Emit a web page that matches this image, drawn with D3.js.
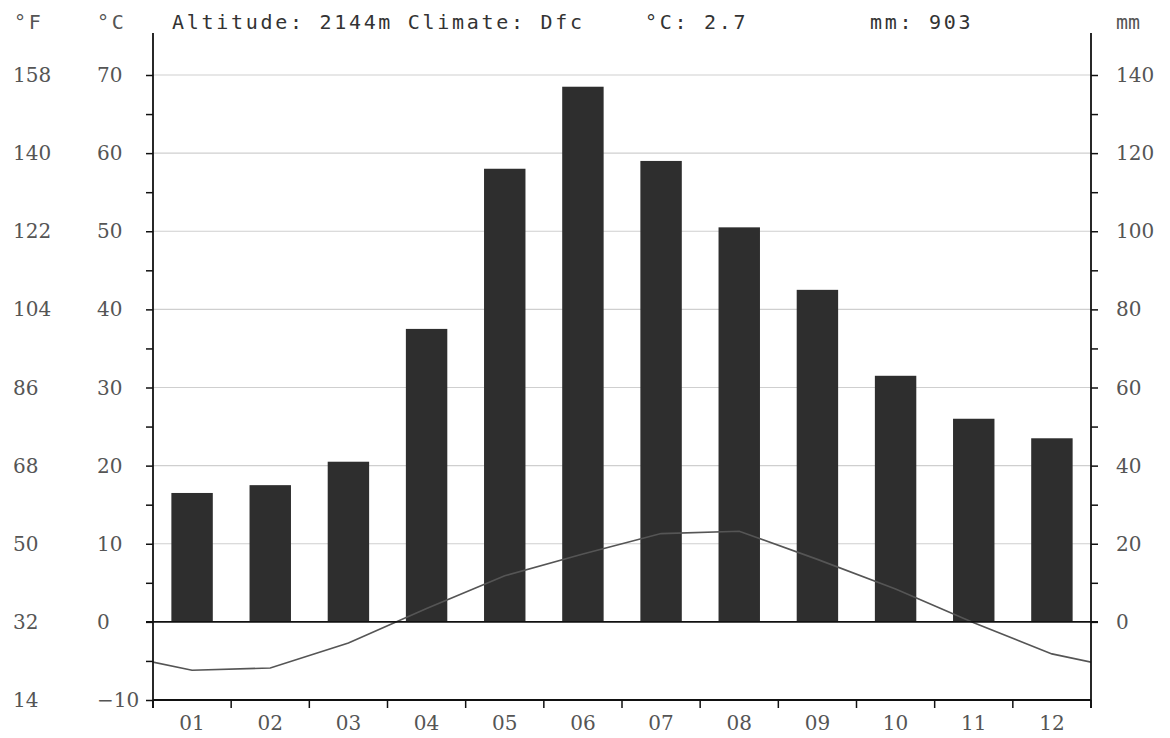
<!DOCTYPE html>
<html><head><meta charset="utf-8">
<script src="https://cdn.jsdelivr.net/npm/d3@7"></script>
<style>
html,body{margin:0;padding:0;background:#fff;}
svg text{font-family:"DejaVu Sans Mono",monospace;fill:#333;}
svg text.num{font-family:"DejaVu Serif",serif;}
</style></head>
<body><svg id="c" width="1170" height="738"></svg>
<script>
const months = ["01","02","03","04","05","06","07","08","09","10","11","12"];
const precip = [33,35,41,75,116,137,118,101,85,63,52,47];
const temp = [-6.2,-5.9,-2.7,1.7,5.9,8.7,11.3,11.6,8.0,4.2,-0.1,-4.1];
const cTicks = [-10,0,10,20,30,40,50,60,70];
const fTicks = [14,32,50,68,86,104,122,140,158];
const mmTicks = [0,20,40,60,80,100,120,140];
const header = ["Altitude: 2144m Climate: Dfc","°C: 2.7","mm: 903"];

const svg = d3.select("#c");
const L = 153, R = 1091, T = 33;
const x = d3.scaleBand().domain(months).range([L, R]).paddingInner(0.47).paddingOuter(0.235);
const xb = d3.scaleLinear().domain([0,12]).range([L, R]);
const yC = d3.scaleLinear().domain([-10,70]).range([700,75]);
const yMM = d3.scaleLinear().domain([-20,140]).range([700,75]);

// gridlines
svg.append("g").selectAll("line").data(cTicks.filter(v=>v>0)).join("line")
  .attr("x1",L).attr("x2",R).attr("y1",d=>yC(d)).attr("y2",d=>yC(d))
  .attr("stroke","#cfcfcf").attr("stroke-width",1.2);

// bars
svg.append("g").selectAll("rect").data(precip).join("rect")
  .attr("x",(d,i)=>x(months[i])).attr("width",x.bandwidth())
  .attr("y",d=>yMM(d)).attr("height",d=>yMM(0)-yMM(d))
  .attr("fill","#2e2e2e");

// temperature line, extended with neighbouring months, clipped
svg.append("clipPath").attr("id","clip").append("rect")
  .attr("x",L).attr("y",T).attr("width",R-L).attr("height",700-T);
const pts = [[-0.5,temp[11]]].concat(temp.map((t,i)=>[i+0.5,t])).concat([[12.5,temp[0]]]);
svg.append("path").attr("clip-path","url(#clip)")
  .attr("d",d3.line().x(d=>xb(d[0])).y(d=>yC(d[1]))(pts))
  .attr("fill","none").attr("stroke","#555").attr("stroke-width",1.6);

// zero line
svg.append("line").attr("x1",L-7).attr("x2",R+7).attr("y1",yC(0)).attr("y2",yC(0))
  .attr("stroke","#111").attr("stroke-width",1.6);

// left axis
const gl = svg.append("g").attr("transform",`translate(${L},0)`);
gl.call(d3.axisLeft(yC).tickValues(d3.range(-10,71,5)).tickSize(7).tickFormat(""));
gl.select(".domain").remove();
gl.selectAll("line").attr("stroke","#111").attr("stroke-width",1.5);
gl.append("line").attr("y1",T).attr("y2",708).attr("stroke","#111").attr("stroke-width",1.8);

// right axis
const gr = svg.append("g").attr("transform",`translate(${R},0)`);
gr.call(d3.axisRight(yMM).tickValues(d3.range(0,141,10)).tickSize(7).tickFormat(""));
gr.select(".domain").remove();
gr.selectAll("line").attr("stroke","#111").attr("stroke-width",1.5);
gr.append("line").attr("y1",T).attr("y2",708).attr("stroke","#111").attr("stroke-width",1.8);

// bottom axis
const gb = svg.append("g").attr("transform","translate(0,700)");
gb.append("line").attr("x1",L).attr("x2",R).attr("stroke","#111").attr("stroke-width",1.8);
gb.selectAll("line.t").data(d3.range(0,13)).join("line").attr("class","t")
  .attr("x1",d=>xb(d)).attr("x2",d=>xb(d)).attr("y1",0).attr("y2",8)
  .attr("stroke","#111").attr("stroke-width",1.5);
gb.selectAll("text").data(months).join("text").attr("class","num")
  .attr("x",d=>x(d)+x.bandwidth()/2).attr("y",30).attr("text-anchor","middle")
  .attr("font-size",20).style("fill","#555").text(d=>d);

// tick labels
const lab = svg.append("g").attr("font-size",20);
lab.selectAll("text.c").data(cTicks).join("text").attr("class","c num")
  .attr("x",97).attr("y",d=>yC(d)+7).style("fill","#555").text(d=>d<0?"−"+Math.abs(d):d);
lab.selectAll("text.f").data(fTicks).join("text").attr("class","f num")
  .attr("x",13).attr("y",(d,i)=>yC(cTicks[i])+7).style("fill","#555").text(d=>d);
lab.selectAll("text.m").data(mmTicks).join("text").attr("class","m num")
  .attr("x",1116).attr("y",d=>yMM(d)+7).style("fill","#555").text(d=>d);

// header
const h = svg.append("g").attr("font-size",20).attr("letter-spacing",2.7);
h.append("text").attr("x",14).attr("y",29).style("fill","#555").text("°F");
h.append("text").attr("x",97).attr("y",29).style("fill","#555").text("°C");
h.append("text").attr("x",1116).attr("y",29).attr("letter-spacing",0).style("fill","#555").text("mm");
h.append("text").attr("x",172).attr("y",29).text(header[0]);
h.append("text").attr("x",645).attr("y",29).text(header[1]);
h.append("text").attr("x",870).attr("y",29).text(header[2]);
</script></body></html>
